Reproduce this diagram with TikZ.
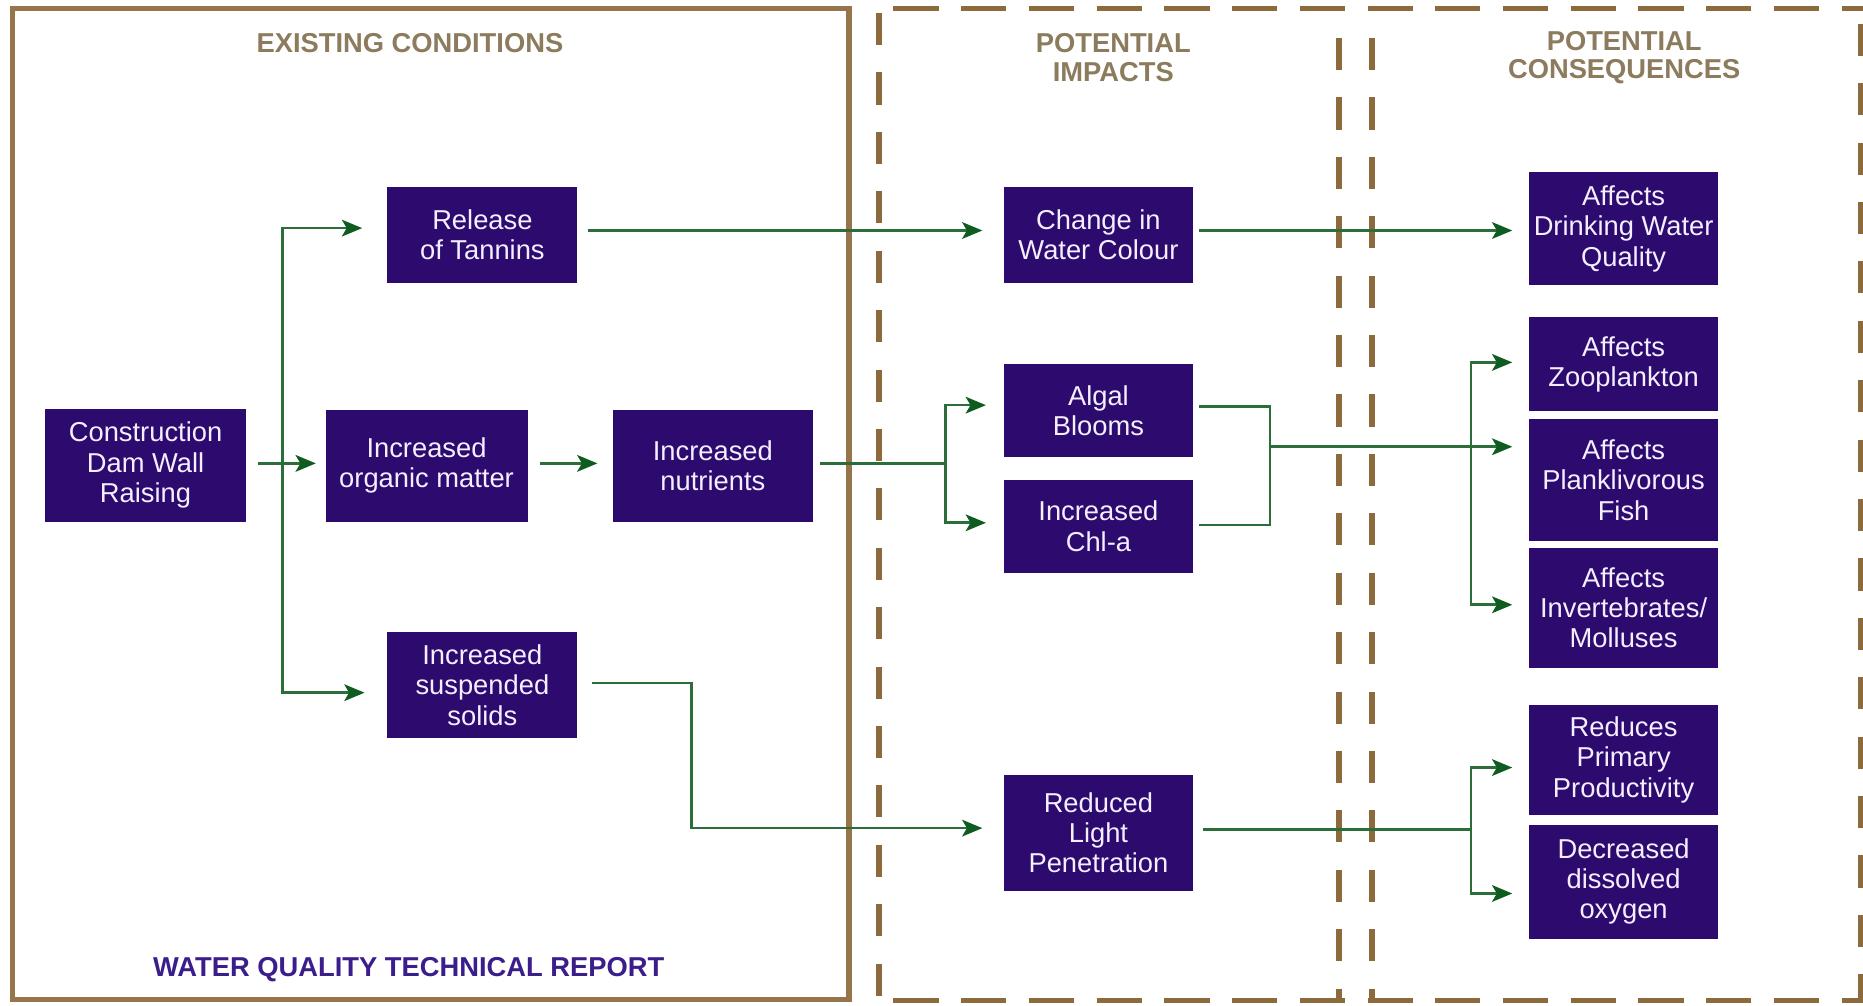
\documentclass[tikz,border=0pt]{standalone}
\usepackage{fontspec}
\setmainfont{Liberation Sans}
\usetikzlibrary{arrows.meta,calc}
\definecolor{boxc}{HTML}{2C0A6E}
\definecolor{boxtext}{HTML}{F4EEFF}
\definecolor{linec}{HTML}{2B6E39}
\definecolor{tipc}{HTML}{0E5C20}
\definecolor{brownb}{HTML}{97754A}
\definecolor{brownd}{HTML}{8C6A3C}
\definecolor{hdrc}{HTML}{8C7B5C}
\definecolor{ftrc}{HTML}{3B1E8C}
\tikzset{
  box/.style={fill=boxc, text=boxtext, inner sep=0pt, align=center,
    font=\fontsize{23}{25.5}\selectfont},
  con/.style={draw=linec, line width=2.2pt,
    -{Stealth[length=17pt,width=14pt,inset=4pt,color=tipc]}},
  wire/.style={draw=linec, line width=2.2pt},
  hdr/.style={text=hdrc, align=center, inner sep=0pt,
    font=\fontsize{23}{24}\selectfont\bfseries},
  ftr/.style={text=ftrc, inner sep=0pt, font=\fontsize{23}{24}\selectfont\bfseries},
  solidb/.style={draw=brownb, line width=4.5pt},
  vdash/.style={draw=brownd, line width=5pt, dash pattern=on 27pt off 23pt},
  hdash/.style={draw=brownd, line width=4.5pt, dash pattern=on 38pt off 19pt},
}
\begin{document}
\begin{tikzpicture}[x=1pt,y=-1pt]
\fill[white] (0,0) rectangle (1568,846);
\useasboundingbox (0,0) rectangle (1568,846);

% frames
\draw[solidb] (10.5,7) rectangle (714.5,841);
\draw[vdash] (740,11) -- (740,841);
\draw[hdash] (752,7) -- (1568,7);
\draw[hdash] (752,842) -- (1568,842);
\draw[vdash] (1127,32) -- (1127,841);
\draw[vdash] (1155,32) -- (1155,841);
\draw[vdash] (1566,20) -- (1566,841);

% headers
\node[hdr] (h1) at (345,36.5) {EXISTING CONDITIONS};
\node[hdr] (h2) at (937,48.5) {POTENTIAL\\IMPACTS};
\node[hdr] (h3) at (1367,48.5) {POTENTIAL\\CONSEQUENCES};
\node[ftr] (ft) at (344,816.5) {WATER QUALITY TECHNICAL REPORT};

% boxes
\node[box, minimum width=169pt, minimum height=95pt] (cons) at (122.5,391.5) {Construction\\Dam Wall\\Raising};
\node[box, minimum width=160pt, minimum height=81pt] (rel) at (406,197.5) {Release\\of Tannins};
\node[box, minimum width=170pt, minimum height=94pt] (org) at (359,392) {Increased\\organic matter};
\node[box, minimum width=168pt, minimum height=94pt] (nut) at (600,392) {Increased\\nutrients};
\node[box, minimum width=160pt, minimum height=89pt] (sus) at (406,576.5) {Increased\\suspended\\solids};
\node[box, minimum width=159pt, minimum height=81pt] (chg) at (924.5,197.5) {Change in\\Water Colour};
\node[box, minimum width=159pt, minimum height=79pt] (alg) at (924.5,345.5) {Algal\\Blooms};
\node[box, minimum width=159pt, minimum height=78pt] (chl) at (924.5,443) {Increased\\Chl-a};
\node[box, minimum width=159pt, minimum height=98pt] (red) at (924.5,701) {Reduced\\Light\\Penetration};
\node[box, minimum width=159pt, minimum height=95pt] (drk) at (1366.5,192.5) {Affects\\Drinking Water\\Quality};
\node[box, minimum width=159pt, minimum height=79pt] (zoo) at (1366.5,306.5) {Affects\\Zooplankton};
\node[box, minimum width=159pt, minimum height=102pt] (pla) at (1366.5,404) {Affects\\Planklivorous\\Fish};
\node[box, minimum width=159pt, minimum height=101pt] (inv) at (1366.5,511.5) {Affects\\Invertebrates/\\Molluses};
\node[box, minimum width=159pt, minimum height=93pt] (pri) at (1366.5,639.5) {Reduces\\Primary\\Productivity};
\node[box, minimum width=159pt, minimum height=96pt] (dis) at (1366.5,742) {Decreased\\dissolved\\oxygen};

% junction points
\coordinate (tr) at (238,390);
\coordinate (sp) at (796,390);
\coordinate (mg) at (1069,376);
\coordinate (vz) at (1238,376);
\coordinate (sb) at (582,697);
\coordinate (rb) at (1238,698);

% connectors
\draw[con, shorten <=10pt, shorten >=8pt] ([yshift=1.5pt]cons.east) -- ([yshift=1.5pt]cons.east -| org.west);
\draw[con, shorten >=21pt] (tr) |- ([yshift=5.5pt]rel.west);
\draw[con, shorten >=19pt] (tr) |- ([yshift=-6.5pt]sus.west);
\draw[con, shorten <=10pt, shorten >=13pt] ([yshift=2pt]org.east) -- ([yshift=2pt]nut.west);
\draw[con, shorten <=9pt, shorten >=18pt] ([yshift=3.5pt]rel.east) -- ([yshift=3.5pt]chg.west);
\draw[con, shorten <=5pt, shorten >=14pt] ([yshift=3.5pt]chg.east) -- ([yshift=3.5pt]chg.east -| drk.west);
\draw[wire, shorten <=6pt] (sp -| nut.east) -- (sp);
\draw[con, shorten >=15pt] (sp) |- ([yshift=4.5pt]alg.west);
\draw[con, shorten >=15pt] (sp) |- ([yshift=3pt]chl.west);
\draw[wire] ([xshift=5pt,yshift=3.5pt]alg.east) -| (mg) |- ([xshift=5pt,yshift=1pt]chl.east);
\draw[con, shorten >=14pt] (mg) -- (mg -| pla.west);
\draw[con, shorten >=14pt] (vz) |- ([yshift=1.5pt]zoo.west);
\draw[con, shorten >=14pt] (vz) |- ([yshift=2.5pt]inv.west);
\draw[con, shorten <=12pt, shorten >=18pt] ([yshift=1.5pt]sus.east) -| (sb) -- (sb -| red.west);
\draw[wire, shorten <=8pt] ([yshift=3pt]red.east) -- (rb);
\draw[con, shorten >=14pt] (rb) |- ([yshift=-6.5pt]pri.west);
\draw[con, shorten >=14pt] (rb) |- ([yshift=-10pt]dis.west);
\end{tikzpicture}
\end{document}
